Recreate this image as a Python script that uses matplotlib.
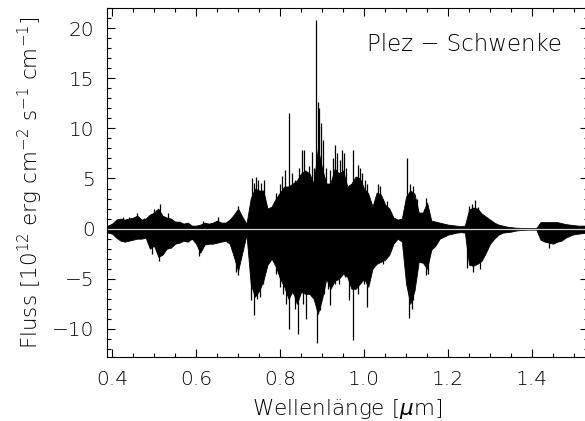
import numpy as np
import matplotlib
matplotlib.use("Agg")
import matplotlib.pyplot as plt
from matplotlib.ticker import MultipleLocator, FormatStrFormatter

# Flux difference spectrum (Plez - Schwenke): bulk envelope every 0.01 micron
wavelength = np.round(np.arange(0.39, 1.5301, 0.01), 2)
flux_upper = [
    0.3, 0.5, 0.9, 1.0, 0.9, 1.0, 1.1, 1.3, 0.9, 1.0,
    1.4, 1.6, 2.0, 1.3, 1.1, 1.0, 0.7, 0.7, 0.5, 0.6,
    0.3, 0.3, 0.4, 0.6, 0.5, 0.6, 0.8, 0.6, 0.6, 0.9,
    1.4, 2.0, 1.2, 0.5, 3.0, 4.0, 3.8, 3.8, 2.0, 2.2,
    3.0, 3.6, 4.2, 4.2, 4.5, 4.8, 5.5, 5.8, 5.5, 4.5,
    8.0, 6.0, 4.5, 4.5, 6.0, 5.5, 5.8, 4.2, 4.5, 5.2,
    5.0, 4.0, 3.5, 2.2, 3.6, 3.4, 2.4, 2.0, 1.1, 0.9,
    1.0, 3.2, 3.8, 3.5, 1.6, 1.6, 2.6, 0.8, 0.7, 0.6,
    0.5, 0.4, 0.35, 0.3, 0.25, 0.3, 1.9, 2.1, 2.0, 1.5,
    1.2, 0.9, 0.6, 0.4, 0.3, 0.2, 0.15, 0.1, 0.08, 0.06,
    0.05, 0.05, 0.05, 0.65, 0.65, 0.65, 0.65, 0.65, 0.55, 0.45,
    0.4, 0.35, 0.3, 0.3, 0.3,
]
flux_lower = [
    -0.4, -0.5, -0.9, -1.2, -1.3, -1.2, -1.1, -1.0, -1.0, -0.9,
    -2.0, -1.7, -2.8, -2.6, -2.0, -1.9, -1.5, -1.4, -1.2, -1.3,
    -1.0, -1.5, -2.4, -1.6, -1.5, -1.5, -1.4, -1.3, -1.2, -1.5,
    -2.8, -4.2, -2.4, -0.6, -5.5, -6.8, -6.2, -5.2, -3.6, -3.0,
    -3.8, -5.0, -5.8, -7.0, -6.2, -7.5, -6.3, -6.5, -6.5, -7.0,
    -8.5, -7.0, -5.0, -6.0, -5.2, -5.0, -4.5, -4.8, -6.0, -6.0,
    -5.5, -5.0, -5.8, -4.0, -3.5, -3.3, -3.1, -2.6, -1.5, -1.0,
    -1.3, -5.5, -7.5, -6.2, -3.3, -3.4, -4.0, -2.1, -1.7, -1.0,
    -0.8, -0.6, -0.5, -0.4, -0.35, -0.4, -3.6, -3.7, -3.5, -3.2,
    -2.4, -1.5, -1.0, -0.6, -0.4, -0.35, -0.3, -0.2, -0.15, -0.12,
    -0.1, -0.1, -0.1, -1.1, -1.3, -1.4, -1.5, -1.3, -1.2, -0.9,
    -0.7, -0.55, -0.5, -0.45, -0.4,
]

# Individual strong features rising above / dipping below the bulk
peak_wavelength = [0.425, 0.440, 0.459, 0.475, 0.4995, 0.505, 0.514, 0.534,
                   0.617, 0.653, 0.700, 0.733, 0.738, 0.742, 0.748, 0.755,
                   0.762, 0.790, 0.800, 0.805, 0.812, 0.822, 0.828, 0.835,
                   0.845, 0.853, 0.858, 0.868, 0.875, 0.880, 0.8866, 0.891,
                   0.893, 0.897, 0.903, 0.910, 0.918, 0.925, 0.930, 0.935,
                   0.943, 0.948, 0.952, 0.958, 0.973, 0.985, 0.990, 0.995,
                   1.003, 1.008, 1.033, 1.038, 1.045, 1.055, 1.1025, 1.110,
                   1.117, 1.125, 1.142, 1.147, 1.250, 1.258, 1.265, 1.272]
peak_flux = [1.2, 1.2, 1.6, 1.1, 2.0, 1.9, 2.5, 1.6,
             0.8, 1.2, 2.3, 5.0, 4.6, 5.1, 4.8, 4.6,
             4.8, 3.6, 4.5, 5.2, 5.8, 11.5, 5.5, 4.8,
             6.0, 7.8, 7.8, 6.2, 7.6, 6.0, 20.8, 12.6,
             12.0, 10.5, 8.8, 6.0, 5.8, 7.0, 8.3, 7.5,
             6.8, 7.8, 7.5, 6.0, 7.8, 6.3, 6.0, 5.5,
             4.8, 4.5, 4.5, 4.3, 3.0, 2.8, 7.0, 4.5,
             4.3, 3.0, 2.0, 3.1, 2.3, 2.5, 2.9, 2.2]
dip_wavelength = [0.495, 0.511, 0.608, 0.695, 0.700, 0.730, 0.737, 0.745,
                  0.752, 0.760, 0.790, 0.800, 0.808, 0.815, 0.822, 0.830,
                  0.835, 0.843, 0.855, 0.862, 0.868, 0.877, 0.889, 0.896,
                  0.905, 0.915, 0.920, 0.930, 0.940, 0.955, 0.965, 0.974,
                  0.985, 1.000, 1.008, 1.045, 1.107, 1.113, 1.117, 1.148,
                  1.153, 1.245, 1.260, 1.275, 1.440]
dip_flux = [-2.5, -3.2, -2.7, -4.3, -4.6, -7.1, -8.6, -7.0,
            -6.8, -5.5, -4.5, -5.8, -6.5, -7.5, -10.0, -6.5,
            -8.0, -10.5, -7.5, -9.0, -6.5, -6.5, -11.4, -8.1,
            -6.5, -6.0, -7.6, -5.5, -5.5, -4.8, -7.1, -11.1,
            -6.5, -5.5, -7.8, -3.5, -8.9, -8.0, -7.1, -4.6,
            -4.5, -3.9, -4.3, -4.0, -1.9]

plt.rcParams["font.family"] = ["DejaVu Sans"]
plt.rcParams["font.weight"] = "light"
plt.rcParams["axes.labelweight"] = "light"
plt.rcParams["mathtext.fontset"] = "custom"
plt.rcParams["mathtext.rm"] = "DejaVu Sans:light"
plt.rcParams["mathtext.it"] = "DejaVu Sans:italic:light"

fig = plt.figure(figsize=(5.85, 4.21), dpi=100)
ax = fig.add_axes([0.183, 0.152, 0.822, 0.829])

ax.fill_between(wavelength, flux_lower, flux_upper, color="black", lw=0.6,
                edgecolor="black")
ax.vlines(peak_wavelength, 0, peak_flux, color="black", lw=0.9)
ax.vlines(dip_wavelength, dip_flux, 0, color="black", lw=0.9)
ax.axhline(0, color="#d4d4d4", lw=0.9)

ax.set_xlim(0.388, 1.533)
ax.set_ylim(-12.8, 22.0)
ax.xaxis.set_major_locator(MultipleLocator(0.2))
ax.xaxis.set_minor_locator(MultipleLocator(0.05))
ax.yaxis.set_major_locator(MultipleLocator(5))
ax.yaxis.set_minor_locator(MultipleLocator(1))
ax.xaxis.set_major_formatter(FormatStrFormatter("%.1f"))
ax.tick_params(which="both", direction="in", top=True, right=True,
               labelsize=14.5, width=0.8, pad=9)
ax.tick_params(which="major", length=6)
ax.tick_params(which="minor", length=3)
for s in ax.spines.values():
    s.set_linewidth(0.8)

ax.set_xlabel(r"Wellenlänge [$\mu$m]", fontsize=15.5, labelpad=6,
              fontweight="light")
ax.set_ylabel(r"Fluss [10$^{12}$ erg cm$^{-2}$ s$^{-1}$ cm$^{-1}$]",
              fontsize=15.5, labelpad=5, fontweight="light")
ax.text(1.470, 18.4, "Plez − Schwenke", fontsize=16.5, ha="right",
        va="center", fontweight="light")

fig.savefig("out.png", dpi=100)
